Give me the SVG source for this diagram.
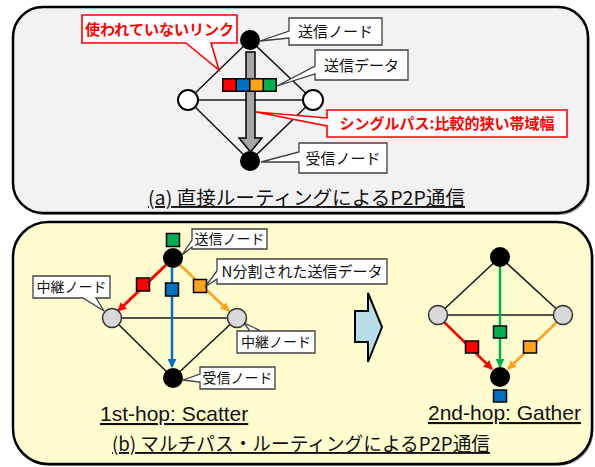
<svg xmlns="http://www.w3.org/2000/svg" width="595" height="467" viewBox="0 0 595 467">
<style>
.jp{font-family:"Noto Sans CJK JP","Noto Sans",sans-serif;}
.lat{font-family:"Liberation Sans",Arial,sans-serif;}
.lbl{font-size:14px;fill:#111;text-anchor:middle;}
.rlbl{font-size:15px;font-weight:bold;fill:#ff0000;text-anchor:middle;}
.call{fill:#fff;stroke:#404040;stroke-width:1.3;}
.rcall{fill:#fff;stroke:#ff0000;stroke-width:1.6;}
.edge{stroke:#1a1a1a;stroke-width:1.6;fill:none;}
.bnode{fill:#000;}
.wnode{fill:#fff;stroke:#000;stroke-width:2;}
.gnode{fill:#d9d9d9;stroke:#333;stroke-width:1.5;}
.sq{stroke:#000;stroke-width:1.5;}
.title{font-size:19px;fill:#111;text-decoration:underline;}
.hop{font-size:21px;fill:#111;text-decoration:underline;}
.shadow{fill:#9a9a9a;}
</style>
<defs>
<marker id="ar" viewBox="0 0 10 10" refX="9" refY="5" markerWidth="9" markerHeight="9" markerUnits="userSpaceOnUse" orient="auto"><path d="M0,0 L10,5 L0,10 z" fill="#ff0000"/></marker>
<marker id="ab" viewBox="0 0 10 10" refX="9" refY="5" markerWidth="9" markerHeight="9" markerUnits="userSpaceOnUse" orient="auto"><path d="M0,0 L10,5 L0,10 z" fill="#0070c0"/></marker>
<marker id="ao" viewBox="0 0 10 10" refX="9" refY="5" markerWidth="9" markerHeight="9" markerUnits="userSpaceOnUse" orient="auto"><path d="M0,0 L10,5 L0,10 z" fill="#ffa31a"/></marker>
<marker id="ag" viewBox="0 0 10 10" refX="9" refY="5" markerWidth="9" markerHeight="9" markerUnits="userSpaceOnUse" orient="auto"><path d="M0,0 L10,5 L0,10 z" fill="#00b050"/></marker>
</defs>

<!-- panels -->
<g id="panel-a">
<rect class="shadow" x="14.5" y="9" width="575" height="206" rx="30"/>
<rect x="13" y="7" width="575" height="206" rx="30" fill="#f2f2f2" stroke="#000" stroke-width="2.5"/>
</g>
<g id="panel-b">
<rect class="shadow" x="14.5" y="224" width="579" height="242" rx="35"/>
<rect x="13" y="222" width="579" height="242" rx="35" fill="#fffccf" stroke="#000" stroke-width="2.5"/>
</g>

<!-- connectors -->
<g id="connectors">
<!-- panel a -->
<line class="edge" x1="250" y1="40" x2="188" y2="100"/>
<line class="edge" x1="188" y1="100" x2="250" y2="161"/>
<line class="edge" x1="250" y1="40" x2="313" y2="100"/>
<line class="edge" x1="313" y1="100" x2="250" y2="161"/>
<line class="edge" x1="188" y1="100" x2="313" y2="100"/>
<path d="M246,52 H255 V138 H262 L250.5,152 L239,138 H246 Z" fill="#a6a6a6" stroke="#000" stroke-width="1.5"/>
<!-- panel b scatter -->
<line class="edge" x1="112" y1="318" x2="237" y2="318"/>
<line class="edge" x1="112" y1="318" x2="173" y2="378"/>
<line class="edge" x1="237" y1="318" x2="173" y2="378"/>
<line x1="166" y1="265" x2="118" y2="311" stroke="#ff0000" stroke-width="3" marker-end="url(#ar)"/>
<line x1="172" y1="268" x2="172" y2="367" stroke="#0070c0" stroke-width="2.5" marker-end="url(#ab)"/>
<line x1="180" y1="265" x2="229" y2="311" stroke="#ffa31a" stroke-width="2.5" marker-end="url(#ao)"/>
<!-- panel b gather -->
<line class="edge" x1="500" y1="257" x2="438" y2="315"/>
<line class="edge" x1="500" y1="257" x2="563" y2="315"/>
<line class="edge" x1="438" y1="315" x2="563" y2="315"/>
<line x1="444" y1="322" x2="492" y2="369" stroke="#ff0000" stroke-width="2.5" marker-end="url(#ar)"/>
<line x1="500" y1="267" x2="500" y2="367" stroke="#00b050" stroke-width="2.5" marker-end="url(#ag)"/>
<line x1="557" y1="322" x2="508" y2="369" stroke="#ffa31a" stroke-width="2.5" marker-end="url(#ao)"/>
</g>

<!-- panel a nodes -->
<g id="a-send"><circle class="bnode" cx="250" cy="40" r="10"/></g>
<g id="a-left"><circle class="wnode" cx="188" cy="100" r="10"/></g>
<g id="a-right"><circle class="wnode" cx="313" cy="100" r="10"/></g>
<g id="a-recv"><circle class="bnode" cx="250" cy="161" r="10"/></g>
<g id="a-data">
<rect x="222" y="78" width="55" height="14" fill="#000"/>
<rect x="223.5" y="79.5" width="12" height="11" fill="#ff0000"/>
<rect x="237" y="79.5" width="12" height="11" fill="#0070c0"/>
<rect x="250.5" y="79.5" width="12" height="11" fill="#ffa31a"/>
<rect x="264" y="79.5" width="11.5" height="11" fill="#00b050"/>
</g>

<!-- panel a callouts -->
<g id="a-lbl-send">
<path class="call" d="M289,18 H382 V45 H289 V38 L260,41 L289,31 Z"/>
<text class="jp lbl" x="335.5" y="37" style="font-size:15px">送信ノード</text>
</g>
<g id="a-lbl-data">
<path class="call" d="M315,50 H408 V80 H315 V74 L277,86 L315,66 Z"/>
<text class="jp lbl" x="361.5" y="71" style="font-size:15px">送信データ</text>
</g>
<g id="a-lbl-recv">
<path class="call" d="M299,143 H387 V173 H299 V162 L261,162 L299,152 Z"/>
<text class="jp lbl" x="343" y="164" style="font-size:15px">受信ノード</text>
</g>
<g id="a-lbl-single">
<path class="rcall" d="M327,110 H567 V137 H327 V126 L256,112 L327,118 Z"/>
<text class="jp rlbl" x="447" y="129">シングルパス:比較的狭い帯域幅</text>
</g>
<g id="a-lbl-unused">
<path class="rcall" d="M82,15 H237 V43 H211 L219,70 L186,43 H82 Z"/>
<text class="jp rlbl" x="159.5" y="35">使われていないリンク</text>
</g>
<g id="a-title">
<text class="jp title" x="148" y="205" textLength="317" lengthAdjust="spacingAndGlyphs">(a) 直接ルーティングによるP2P通信</text>
</g>

<!-- panel b scatter nodes -->
<g id="b1-send"><circle class="bnode" cx="173" cy="258" r="10"/></g>
<g id="b1-left"><circle class="gnode" cx="112" cy="318" r="9.5"/></g>
<g id="b1-right"><circle class="gnode" cx="237" cy="318" r="9.5"/></g>
<g id="b1-recv"><circle class="bnode" cx="173" cy="378" r="10"/></g>
<g id="b1-squares">
<rect class="sq" x="166.5" y="233.5" width="13" height="13" fill="#00b050"/>
<rect class="sq" x="136.5" y="278" width="13" height="13" fill="#ff0000"/>
<rect class="sq" x="165.5" y="283" width="13" height="13" fill="#0070c0"/>
<rect class="sq" x="193.5" y="279.5" width="13" height="13" fill="#ffa31a"/>
</g>
<g id="b1-lbl-send">
<path class="call" d="M192,229 H267 V249 H192 V247 L182,255 L192,240 Z"/>
<text class="jp lbl" x="229.5" y="244">送信ノード</text>
</g>
<g id="b1-lbl-data">
<path class="call" d="M217,259 H387 V284 H217 V279 L205,287 L217,271 Z"/>
<text class="jp lbl" x="302" y="277" style="font-size:15px">N分割された送信データ</text>
</g>
<g id="b1-lbl-relay-l">
<path class="call" d="M33,276 H110 V298 H96 L104,311 L83,298 H33 Z"/>
<text class="jp lbl" x="71.5" y="292">中継ノード</text>
</g>
<g id="b1-lbl-relay-r">
<path class="call" d="M237,331 H315 V353 H237 V331 H250 L244,323 L261,331 Z"/>
<text class="jp lbl" x="276" y="347">中継ノード</text>
</g>
<g id="b1-lbl-recv">
<path class="call" d="M200,367 H275 V389 H200 V382 L183,380 L200,374 Z"/>
<text class="jp lbl" x="237.5" y="383">受信ノード</text>
</g>
<g id="b1-title">
<text class="lat hop" x="100" y="421">1st-hop: Scatter</text>
</g>

<!-- block arrow -->
<g id="b-next">
<path d="M355,311 H368 V293 L382,327 L368,362 V342 H355 Z" fill="#b7dee8" stroke="#000" stroke-width="2" stroke-linejoin="miter"/>
</g>

<!-- panel b gather nodes -->
<g id="b2-top"><circle class="bnode" cx="500" cy="257" r="10"/></g>
<g id="b2-left"><circle class="gnode" cx="438" cy="315" r="9.5"/></g>
<g id="b2-right"><circle class="gnode" cx="563" cy="315" r="9.5"/></g>
<g id="b2-recv"><circle class="bnode" cx="500" cy="377" r="10"/></g>
<g id="b2-squares">
<rect class="sq" x="493.5" y="326" width="13" height="12" fill="#00b050"/>
<rect class="sq" x="465.5" y="341" width="13" height="12" fill="#ff0000"/>
<rect class="sq" x="523.5" y="341" width="13" height="12" fill="#ffa31a"/>
<rect class="sq" x="493.5" y="390" width="13" height="12" fill="#0070c0"/>
</g>
<g id="b2-title">
<text class="lat hop" x="428" y="420">2nd-hop: Gather</text>
</g>

<g id="b-title">
<text class="jp title" x="112" y="451" textLength="378" lengthAdjust="spacingAndGlyphs">(b) マルチパス・ルーティングによるP2P通信</text>
</g>
</svg>
